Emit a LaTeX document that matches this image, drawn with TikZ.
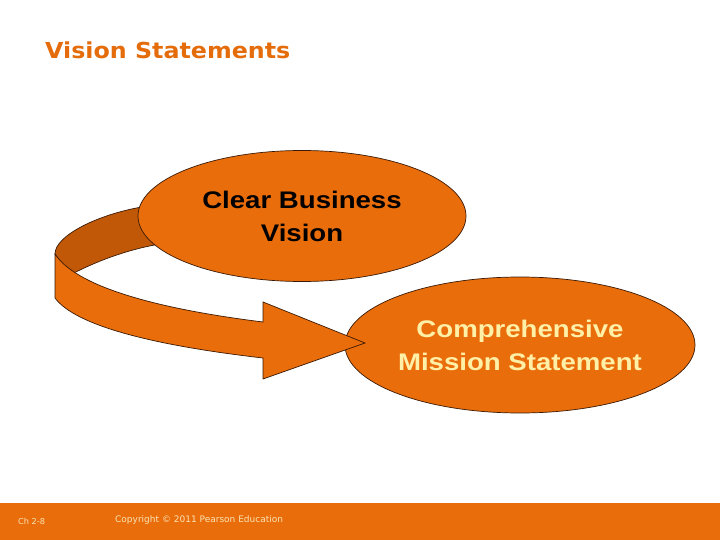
\documentclass[tikz,border=0pt]{standalone}
\usepackage{fontspec}
\usetikzlibrary{shapes.geometric}
\setmainfont{Liberation Sans}
\newfontfamily\bodyfont[FakeStretch=1.15]{Liberation Sans}
\newfontfamily\titlefont[FakeStretch=1.08]{DejaVu Sans}
\newfontfamily\footfont{DejaVu Sans}
\definecolor{slideorange}{HTML}{EA6D0B}
\definecolor{bandorange}{HTML}{C05808}
\definecolor{titleorange}{HTML}{E46C0A}
\definecolor{cream}{HTML}{FFF0A8}
\definecolor{footcream}{HTML}{F8E4B4}
\definecolor{outline}{HTML}{3A1A05}
\tikzset{
  ovalbox/.style={ellipse, draw=outline, line width=0.7pt, fill=slideorange, inner sep=0pt, align=center},
  ribbon/.style={draw=outline, line width=0.7pt, line join=miter},
}
\begin{document}
\begin{tikzpicture}[x=1pt,y=-1pt]
\useasboundingbox (0,0) rectangle (720,540);
\fill[white] (0,0) rectangle (720,540);
% title
\node[anchor=west, text=titleorange, font=\titlefont\bfseries\fontsize{22}{26}\selectfont, inner sep=0pt] (title) at (45,50) {Vision Statements};
% footer bar
\fill[slideorange] (0,503) rectangle (720,540);
\node[anchor=west, text=footcream, font=\footfont\fontsize{8.2}{10}\selectfont, inner sep=0pt] (chap) at (18,521) {Ch 2-8};
\node[anchor=west, text=footcream, font=\footfont\fontsize{9}{11}\selectfont, inner sep=0pt] (copy) at (115,520) {Copyright © 2011 Pearson Education};
% back band of ribbon
\filldraw[ribbon, fill=bandorange] (142,207) .. controls (100,214) and (55,235) .. (55,254) -- (70,275) .. controls (95,262) and (125,250) .. (160,244) -- cycle;
% first ellipse
\node[ovalbox, minimum width=328pt, minimum height=131pt, text=black, font=\bodyfont\bfseries\fontsize{24}{33}\selectfont] (vision) at (302,216) {Clear Business\\Vision};
% second ellipse
\node[ovalbox, minimum width=350pt, minimum height=136pt, text=cream, font=\bodyfont\bfseries\fontsize{24}{33}\selectfont] (mission) at (520,345) {Comprehensive\\Mission Statement};
% front face of ribbon with arrow head
\coordinate (tip) at (365,343);
\filldraw[ribbon, fill=slideorange] (55,254) .. controls (75,285) and (150,308) .. (263,322) -- (263,302) -- (tip) -- (263,379) -- (263,358) .. controls (150,345) and (75,325) .. (55,298) -- cycle;
\end{tikzpicture}
\end{document}
